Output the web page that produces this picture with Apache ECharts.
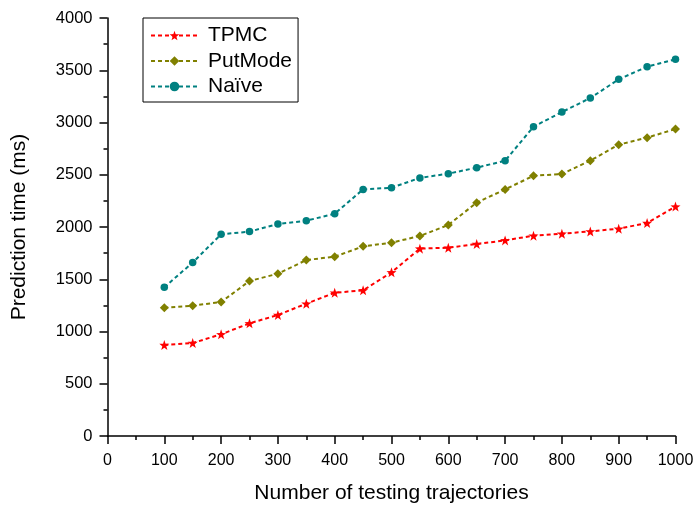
<!DOCTYPE html>
<html>
<head>
<meta charset="utf-8">
<script src="https://cdn.jsdelivr.net/npm/echarts@6/dist/echarts.min.js"></script>
<style>
html,body{margin:0;padding:0;background:#fff;}
#chart{width:693px;height:505px;}
</style>
</head>
<body>
<div id="chart"></div>
<script>
var xValues = [100,150,200,250,300,350,400,450,500,550,600,650,700,750,800,850,900,950,1000];
var tpmc    = [871,890,973,1078,1158,1266,1371,1394,1566,1793,1802,1837,1872,1917,1936,1958,1984,2038,2195];
var putMode = [1228,1247,1282,1483,1553,1684,1716,1815,1850,1914,2019,2233,2360,2490,2508,2635,2788,2855,2938];
var naive   = [1423,1660,1930,1956,2029,2060,2127,2360,2376,2470,2510,2568,2634,2960,3100,3234,3413,3534,3605];
var seriesNames = ['TPMC','PutMode','Naïve'];

function pairs(ys){ return xValues.map(function(x,i){ return [x, ys[i]]; }); }

var starPath = 'path://M0,-10 L2.35,-3.24 L9.51,-3.09 L3.8,1.24 L5.88,8.09 L0,4 L-5.88,8.09 L-3.8,1.24 L-9.51,-3.09 L-2.35,-3.24 Z';
var FONT = 'Liberation Sans, Arial, sans-serif';

function mk(name, data, color, symbol, size){
  return {
    name: name, type: 'line', data: pairs(data),
    symbol: symbol, symbolSize: size,
    itemStyle: {color: color},
    lineStyle: {color: color, width: 2, type: [4,3]},
    emphasis: {disabled: true},
    animation: false
  };
}
function plain(v){ return String(v); }

var chart = echarts.init(document.getElementById('chart'), null, {renderer:'canvas'});
chart.setOption({
  backgroundColor: '#fff',
  animation: false,
  grid: {left: 107.5, right: 17.5, top: 18, bottom: 69, containLabel: false, outerBoundsMode: 'none'},
  legend: {
    orient: 'vertical', left: 143, top: 18,
    padding: [7, 6, 5, 7],
    itemWidth: 47, itemHeight: 12, itemGap: 4.5,
    borderColor: '#000', borderWidth: 1,
    textStyle: {fontFamily: FONT, fontSize: 21, color: '#000', padding: [0,0,0,5]},
    data: seriesNames
  },
  xAxis: {
    type: 'value', min: 0, max: 1000, interval: 100,
    name: 'Number of testing trajectories', nameLocation: 'middle', nameGap: 47,
    nameTextStyle: {fontFamily: FONT, fontSize: 21, color: '#000'},
    axisLine: {show: true, onZero: false, lineStyle: {color: '#000', width: 1.5}},
    axisTick: {show: true, length: 8, lineStyle: {color: '#000', width: 1.5}},
    minorTick: {show: true, splitNumber: 2, length: 4, lineStyle: {color: '#000', width: 1.5}},
    axisLabel: {fontFamily: FONT, fontSize: 16, color: '#000', margin: 17, formatter: plain, hideOverlap: false},
    splitLine: {show: false}
  },
  yAxis: {
    type: 'value', min: 0, max: 4000, interval: 500,
    name: 'Prediction time (ms)', nameLocation: 'middle', nameGap: 78,
    nameTextStyle: {fontFamily: FONT, fontSize: 21, color: '#000'},
    axisLine: {show: true, onZero: false, lineStyle: {color: '#000', width: 1.5}},
    axisTick: {show: true, length: 8, lineStyle: {color: '#000', width: 1.5}},
    minorTick: {show: true, splitNumber: 2, length: 4, lineStyle: {color: '#000', width: 1.5}},
    axisLabel: {fontFamily: FONT, fontSize: 16.5, color: '#000', margin: 15, formatter: plain},
    splitLine: {show: false}
  },
  series: [
    mk(seriesNames[0], tpmc, '#ff0000', starPath, 10),
    mk(seriesNames[1], putMode, '#808000', 'diamond', 9),
    mk(seriesNames[2], naive, '#008080', 'circle', 7.5)
  ]
});
</script>
</body>
</html>
